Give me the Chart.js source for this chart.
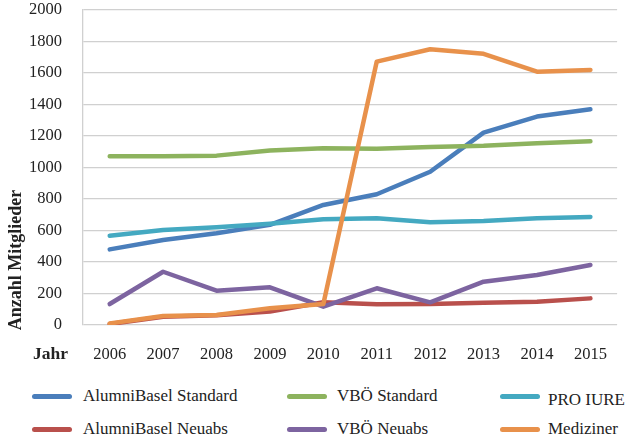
<!DOCTYPE html>
<html>
<head>
<meta charset="utf-8">
<script src="https://cdn.jsdelivr.net/npm/chart.js@4"></script>
<style>
  body { margin: 0; background: #fff; font-family: "Liberation Serif", serif; color: #222; }
  #wrap { position: relative; width: 627px; height: 441px; overflow: hidden; }
  #chart { position: absolute; left: 0; top: -21px; }
  #ytitle { position: absolute; left: 15px; top: 260px; transform: translate(-50%, -50%) rotate(-90deg);
            font-weight: bold; font-size: 18px; white-space: nowrap; }
  #jahr { position: absolute; left: 33px; top: 343px; font-weight: bold; font-size: 17.5px; }
  .leg { position: absolute; font-size: 17px; white-space: nowrap; line-height: 20px; }
  .leg span.sw { position: absolute; left: 0; top: 50%; width: 40px; height: 5px; border-radius: 3px; margin-top: -2.5px; }
  .leg span.tx { position: relative; }
</style>
</head>
<body>
<div id="wrap">
  <canvas id="chart" width="627" height="391"></canvas>
  <div id="ytitle">Anzahl Mitglieder</div>
  <div id="jahr">Jahr</div>
  <div id="legend"></div>
</div>
<script>
var years = ['2006', '2007', '2008', '2009', '2010', '2011', '2012', '2013', '2014', '2015'];

var alumniStandard = [480, 540, 582, 636, 762, 830, 973, 1221, 1323, 1369];
var vboStandard = [1071, 1071, 1075, 1107, 1122, 1118, 1130, 1137, 1154, 1166];
var proIure = [567, 603, 620, 643, 671, 677, 652, 660, 677, 686];
var alumniNeuabs = [6, 53, 62, 85, 144, 131, 133, 142, 148, 169];
var vboNeuabs = [133, 338, 218, 239, 116, 233, 144, 275, 317, 381];
var mediziner = [10, 57, 63, 106, 133, 1672, 1750, 1721, 1608, 1619];

var seriesNames = ['AlumniBasel Standard', 'VBÖ Standard', 'PRO IURE', 'AlumniBasel Neuabs', 'VBÖ Neuabs', 'Mediziner'];
var seriesValues = [alumniStandard, vboStandard, proIure, alumniNeuabs, vboNeuabs, mediziner];
var seriesColors = ['#4a7ebb', '#8db35e', '#44a9c1', '#b9504c', '#7d64a0', '#e8914b'];
var yTicks = [0, 200, 400, 600, 800, 1000, 1200, 1400, 1600, 1800, 2000];

// excel draws later series on top -> smaller order in chart.js
var datasets = [];
for (var i = 0; i < seriesNames.length; i++) {
  datasets.push({
    label: seriesNames[i],
    data: seriesValues[i],
    borderColor: seriesColors[i],
    backgroundColor: seriesColors[i],
    borderWidth: 4.5,
    borderCapStyle: 'round',
    borderJoinStyle: 'round',
    pointRadius: 0,
    tension: 0,
    order: seriesNames.length - i
  });
}

var ctx = document.getElementById('chart').getContext('2d');
new Chart(ctx, {
  type: 'line',
  data: { labels: years, datasets: datasets },
  options: {
    responsive: false,
    animation: false,
    layout: { padding: { top: 0, right: 2, left: 0, bottom: 0 } },
    plugins: { legend: { display: false }, tooltip: { enabled: false } },
    scales: {
      x: {
        offset: true,
        grid: { display: false, drawTicks: false },
        border: { display: false },
        ticks: { color: '#222', font: { family: 'Liberation Serif', size: 16.5 }, padding: 20, maxRotation: 0 },
        afterFit: function (s) { s.height = 45; }
      },
      y: {
        min: 0,
        max: 2000,
        afterBuildTicks: function (s) { s.ticks = yTicks.map(function (v) { return { value: v }; }); },
        grid: { color: '#d0d0d0', lineWidth: 1.3, drawTicks: false },
        border: { display: true, color: '#d0d0d0', width: 1.3 },
        ticks: {
          color: '#222', font: { family: 'Liberation Serif', size: 16.5 }, padding: 21,
          callback: function (v) { return String(v); }
        },
        afterFit: function (s) { s.width = 83; }
      }
    }
  }
});

// legend in three columns like the original
var colX = [32, 287, 500];
var textGap = [51, 50, 48];
var rowY = [396, 429];
var legend = document.getElementById('legend');
for (var j = 0; j < seriesNames.length; j++) {
  var d = document.createElement('div');
  d.className = 'leg';
  d.style.left = colX[j % 3] + 'px';
  d.style.top = (rowY[Math.floor(j / 3)] - 10) + 'px';
  d.innerHTML = '<span class="sw" style="background:' + seriesColors[j] + '"></span><span class="tx">' + seriesNames[j] + '</span>';
  var tx = d.querySelector('.tx');
  tx.style.left = textGap[j % 3] + 'px';
  if (seriesNames[j] == 'PRO IURE') tx.style.top = '4px';
  legend.appendChild(d);
}
</script>
</body>
</html>
